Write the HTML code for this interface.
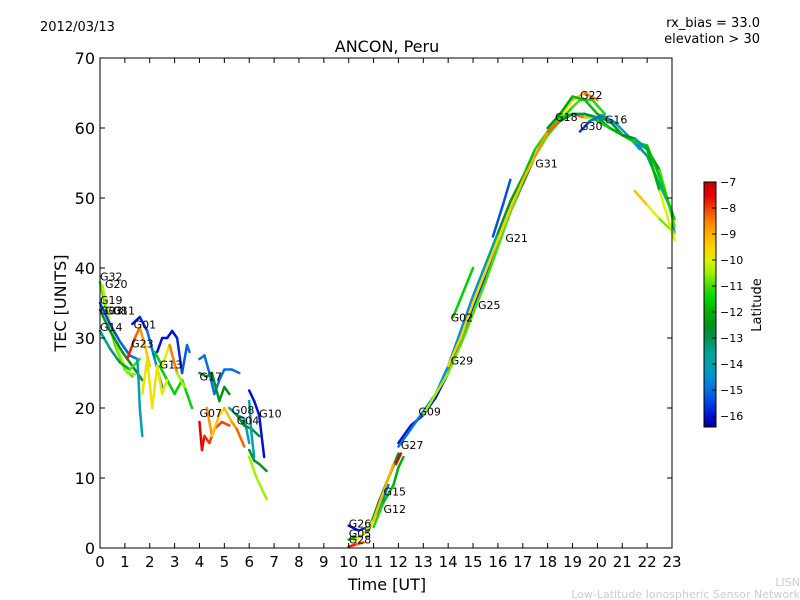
<!DOCTYPE html>
<html><head><meta charset="utf-8"><style>
body{margin:0;background:#fff;}
svg{display:block;font-family:"DejaVu Sans","Liberation Sans",sans-serif;}
</style></head><body>
<svg id="chart" width="800" height="600">
<defs>
<linearGradient id="cbg" x1="0" y1="1" x2="0" y2="0">
</linearGradient>
</defs>
<text x="40" y="31" font-size="13">2012/03/13</text>
<text x="760" y="27" font-size="13" text-anchor="end">rx_bias = 33.0</text>
<text x="760" y="43" font-size="13" text-anchor="end">elevation &gt; 30</text>
<text x="387" y="52" font-size="16" text-anchor="middle">ANCON, Peru</text>
<text x="387" y="590" font-size="16" text-anchor="middle">Time [UT]</text>
<text transform="translate(66,303) rotate(-90)" font-size="16" text-anchor="middle">TEC [UNITS]</text>
<text x="800" y="586" font-size="11" fill="#ccc" text-anchor="end">LISN</text>
<text x="800" y="598" font-size="11" fill="#ccc" text-anchor="end">Low-Latitude Ionospheric Sensor Network</text>
<g id="marks"></g>
<g id="labels"></g>
<g id="axes"></g>
<g id="cbar"></g>
<text transform="translate(761,305) rotate(-90)" font-size="13" text-anchor="middle">Latitude</text>
</svg>
<script>
const xTicks=[0,1,2,3,4,5,6,7,8,9,10,11,12,13,14,15,16,17,18,19,20,21,22,23];
const yTicks=[0,10,20,30,40,50,60,70];
const cbTicks=[-7,-8,-9,-10,-11,-12,-13,-14,-15,-16];
const trackNames=["a1","a2","a3","a4","a5","a6","a7","a8","a9","a10","a11","a12","a13","a14","a15","a16","a17","a18","a19","a20","a21","a22","p1","p2","p3","p4","p5","p6","p7","p8","p9","p10","p11","p12","p13","p14","p15","p16","p17","p18"];
const trackT=[
[0,0.3,0.6,1,1.3],
[0.1,0.4,0.8,1.1,1.4],
[0,0.4,0.8,1.2,1.5],
[0,0.4,0.9,1.3,1.7],
[0,0.4,0.8,1.2,1.6],
[1.3,1.6,1.9,2.2,2.5],
[1.1,1.4,1.6,1.8,2],
[2.3,2.5,2.7,2.9,3.1,3.3,3.5,3.6],
[2.4,2.7,3,3.3,3.5,3.7],
[1.7,1.9,2.1,2.3,2.5,2.7],
[1.5,1.55,1.6,1.65,1.7],
[2.2,2.5,2.8,3.1,3.4],
[4,4.2,4.4,4.6,4.8,5,5.3,5.6],
[4,4.3,4.5,4.8,5,5.2],
[4,4.1,4.2,4.4,4.6,4.9,5.2],
[4.3,4.5,4.8,5,5.3,5.5,5.8],
[5.2,5.5,5.8,6],
[5.5,5.8,6.1,6.4],
[6,6.2,6.4,6.6],
[6,6.2,6.4,6.7],
[6,6.3,6.7],
[6,6.1,6.2],
[10,10.3,10.6],
[10,10.4,10.8,11.2,11.6],
[10,10.4,10.8,11.2,11.6,12],
[10.2,10.6,11,11.4,11.8],
[11,11.4,11.8,12,12.2],
[11.9,12.1],
[12,12.5,13,13.5,14,14.5,15,15.5,16,16.5,17,17.5,18,18.5,19,19.5,20],
[12,12.5,13,13.5,14,14.5,15,15.5,16,16.5,17,17.5,18,18.5,19,19.5,20,20.5],
[13,13.5,14,14.5,15,15.5,16,16.5,17,17.5,18,18.5,19,19.3,19.8,20.3],
[14,14.5,15,15.5,16,16.5,17,17.5,18,18.5,19,19.5,20,20.5,21,21.5],
[14.2,14.6,15],
[15.8,16.2,16.5],
[18,18.5,19,19.5,20,20.5,21,21.5,22,22.5,23,23.1],
[18.5,19,19.5,20,20.5,21,21.5,22,22.5,23.1],
[19.3,19.7,20.2,20.7,21.2,21.7],
[21.5,22,22.5,23.1],
[20,20.5,21,21.5,22,22.5,23.1],
[20.5,21,21.5,22,22.5,23.1]
];
const trackV=[
[38,33,29,25.5,24.5],
[37.5,32,27.5,25,24.8],
[35,32,29.5,27.5,27],
[34,31,28,26,24],
[31,28.5,26.5,25.5,27],
[32,33,31,27,23],
[27,30,31.5,29,26],
[28,30,30,31,30,25,29,28],
[26,24,22,24,22,20],
[22,27,20,26,22,24],
[27,24,20,18,16],
[28,26,29,25,23],
[27,27.5,25,22,24,25.5,25.5,25],
[25,24.5,25,21,23,22],
[18,14,16,15,17,18,17.5],
[20,16,19,20,18,17,14.5],
[20,19,18.5,15],
[19,17.5,17,16],
[22.5,21,19,13],
[14,12.5,12,11],
[13,10,7],
[21,16,13],
[0.2,0.5,0.8],
[3.2,2.5,3,5.5,9],
[1.2,1.5,2.5,6.5,10,13.5],
[1,2,4,8,12],
[3,6.5,9,11.5,13],
[12,13.5],
[15,17.5,19,21.5,25,30,34.5,39,43.5,48,52,56,59,61.5,64,65,64],
[14.5,17,19.5,22,26,31,36,40.5,45,49.5,53,57,59.5,61.5,62,62,61,60],
[19,22,25,29,33.5,38,43,48,52.5,56,59,61,63,64,64,62],
[26,30,35,39.5,44,48.5,52.5,56,59.5,61,62,61.5,61.5,61,59,58],
[33,36.5,40],
[44.5,49,52.6],
[60,62,64.5,64,62,61,59,58,56,52,48,45],
[61,62,62,61.5,60,59,58,57,54,46],
[59.5,61,61.8,60.8,59,57],
[51,49,47,45],
[61,60,59,58,57.5,53,47],
[60,59,58.5,57,51,44]
];
const trackL=[
[-11,-11,-11,-11,-11],
[-10.3,-10.4,-10.5,-10.6,-10.6],
[-15.5,-15.4,-15.3,-15,-15],
[-12.5,-12.5,-12.5,-12.5,-12.5],
[-13.5,-13.5,-13,-11,-11],
[-16,-16,-15.5,-14.5,-14],
[-7.5,-8,-8.5,-9,-9.5],
[-16,-16,-16,-16,-16,-15.5,-15,-15],
[-11.5,-11.5,-11.5,-11.5,-11.5,-11.5],
[-9.8,-9.8,-9.8,-9.8,-9.8,-9.8],
[-14,-14,-14,-14,-14],
[-11,-12,-8,-9,-12],
[-15,-15,-15,-15,-15,-15,-15,-15],
[-12.5,-12.5,-12.5,-12.5,-12.5,-12.5],
[-7.5,-7.5,-7.8,-8,-8,-8,-8],
[-8.5,-9,-9.5,-9.5,-9,-8.5,-8],
[-14,-14,-14,-14],
[-12.5,-12.5,-12.5,-12.5],
[-16,-16,-16,-16],
[-12.5,-12.5,-12.5,-12.5],
[-10.5,-10.5,-10.5],
[-14,-14,-14],
[-7.5,-8,-8.5],
[-16,-16,-15.5,-15,-14.5],
[-12,-12,-12.5,-12.5,-12.5,-12.5],
[-10,-10,-9.5,-9,-9],
[-11,-11.5,-12,-12,-12],
[-7.5,-7.5],
[-16,-16,-16,-16,-16,-16,-16,-15.5,-15,-14,-13,-12,-11,-10,-9.5,-9,-8],
[-15,-15,-14.8,-14.5,-14.5,-14.5,-14.5,-14,-13,-12.5,-12,-11.5,-11,-11,-12,-13,-14,-15],
[-10.5,-10.5,-10.5,-11,-11,-11,-11,-11,-11,-11,-11,-11.5,-11,-11,-11.5,-11],
[-9.5,-9.5,-9.5,-9.5,-9.5,-9.5,-9,-9,-8.5,-8,-7.8,-9,-12,-12,-12,-12],
[-11.5,-11.5,-11.5],
[-15.3,-15.3,-15.3],
[-12.5,-12.5,-12,-11.5,-12,-12.5,-13,-13,-13.5,-14,-14,-14],
[-13,-13,-13,-13,-13,-14,-15,-14,-11,-11],
[-16,-15,-15,-14,-14,-14.5],
[-9,-9.5,-10.5,-11],
[-11.5,-11.5,-11.5,-11.5,-11.5,-12,-11],
[-12,-12,-13,-14,-10,-10]
];
const satNames=["G32","G20","G19","G03","G08","G11","G14","G01","G23","G13","G17","G07","G08","G04","G10","G26","G05","G28","G15","G12","G27","G09","G29","G02","G25","G21","G31","G18","G22","G30","G16"];
const satT=[0,0.2,0,0,0.2,0.5,0,1.35,1.25,2.4,4,4,5.3,5.5,6.4,10,10,10,11.4,11.4,12.1,12.8,14.1,14.1,15.2,16.3,17.5,18.3,19.3,19.3,20.3];
const satV=[38.8,37.7,35.4,33.9,33.9,33.9,31.6,31.9,29.2,26.2,24.5,19.3,19.7,18.2,19.2,3.5,2.1,1.2,8.1,5.6,14.7,19.5,26.8,32.9,34.7,44.3,54.9,61.6,64.7,60.3,61.2];
const X0=100,X1=672,Y0=548,Y1=58,XMAX=23,YMAX=70;
const CBMIN=-16.42,CBMAX=-7,CBY0=427,CBY1=182;
const xs=t=>X0+t*(X1-X0)/XMAX;
const ys=v=>Y0-v*(Y0-Y1)/YMAX;
const cbs=l=>CBY0-(l-CBMIN)*(CBY0-CBY1)/(CBMAX-CBMIN);
const stops=[[-16.42,[0,0,140]],[-16,[0,16,210]],[-15.5,[0,64,224]],[-15,[0,112,224]],[-14.5,[0,144,208]],[-14,[0,160,176]],[-13.5,[0,160,144]],[-13,[0,144,80]],[-12.5,[0,144,32]],[-12,[0,176,0]],[-11.5,[0,208,0]],[-11,[64,224,0]],[-10.5,[160,240,0]],[-10,[224,240,0]],[-9.5,[255,208,0]],[-9,[255,176,0]],[-8.5,[255,128,0]],[-8,[240,64,0]],[-7.5,[224,0,0]],[-7,[192,0,0]]];
function col(l){
  if(l<=stops[0][0])return `rgb(${stops[0][1]})`;
  for(let i=1;i<stops.length;i++){if(l<=stops[i][0]){const a=stops[i-1],b=stops[i];const f=(l-a[0])/(b[0]-a[0]);const c=a[1].map((v,k)=>Math.round(v+(b[1][k]-v)*f));return `rgb(${c})`;}}
  return `rgb(${stops[stops.length-1][1]})`;
}
const NS="http://www.w3.org/2000/svg";
function mk(tag,attrs,parent){const e=document.createElementNS(NS,tag);for(const k in attrs)e.setAttribute(k,attrs[k]);parent.appendChild(e);return e;}
const marks=document.getElementById('marks');
trackT.forEach((ts,i)=>{
  const g=mk('g',{},marks);
  
  
  for(let j=0;j<ts.length-1;j++){
    const seg=mk('line',{x1:xs(ts[j]),y1:ys(trackV[i][j]),x2:xs(ts[j+1]),y2:ys(trackV[i][j+1]),stroke:col((trackL[i][j]+trackL[i][j+1])/2),'stroke-width':2.5,'stroke-linecap':'round'},g);
    
    
  }
});
const labels=document.getElementById('labels');
satNames.forEach((n,i)=>{
  const t=mk('text',{x:xs(satT[i]),y:ys(satV[i])+4,'font-size':11},labels);
  t.textContent=n;
  
  
});
const axes=document.getElementById('axes');
const frame=mk('rect',{x:X0,y:Y1,width:X1-X0,height:Y0-Y1,fill:'none',stroke:'#000','stroke-width':1},axes);


xTicks.forEach(t=>{
  const x=xs(t);
  const a=mk('line',{x1:x,y1:Y0,x2:x,y2:Y0-5,stroke:'#000'},axes);
  
  
  const b=mk('line',{x1:x,y1:Y1,x2:x,y2:Y1+5,stroke:'#000'},axes);
  
  
  const l=mk('text',{x:x,y:Y0+19,'font-size':15,'text-anchor':'middle'},axes);
  l.textContent=t;
  
  
});
yTicks.forEach(v=>{
  const y=ys(v);
  const a=mk('line',{x1:X0,y1:y,x2:X0+5,y2:y,stroke:'#000'},axes);
  
  
  const b=mk('line',{x1:X1,y1:y,x2:X1-5,y2:y,stroke:'#000'},axes);
  
  
  const l=mk('text',{x:X0-5,y:y+6,'font-size':16,'text-anchor':'end'},axes);
  l.textContent=v;
  
  
});
const grad=document.getElementById('cbg');
stops.forEach(s=>{
  const st=mk('stop',{offset:((s[0]-CBMIN)/(CBMAX-CBMIN)),'stop-color':`rgb(${s[1]})`},grad);
  
  
});
const cbar=document.getElementById('cbar');
const cr=mk('rect',{x:704,y:CBY1,width:12,height:CBY0-CBY1,fill:'url(#cbg)',stroke:'#000','stroke-width':1},cbar);


cbTicks.forEach(v=>{
  const y=cbs(v);
  const a=mk('line',{x1:712,y1:y,x2:716,y2:y,stroke:'#000'},cbar);
  
  
  const l=mk('text',{x:720,y:y+4,'font-size':11},cbar);
  l.textContent='\u2212'+Math.abs(v);
  
  
});
</script>
</body></html>
